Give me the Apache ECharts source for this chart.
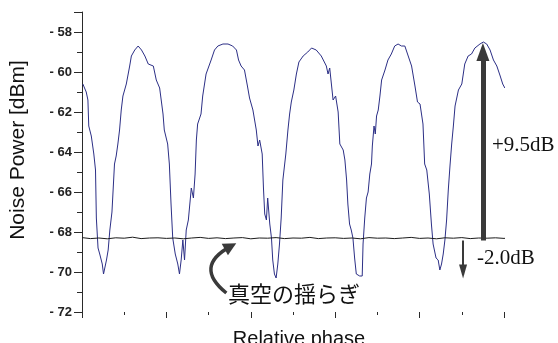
<!DOCTYPE html>
<html><head><meta charset="utf-8">
<script src="https://cdn.jsdelivr.net/npm/echarts@6/dist/echarts.min.js"></script>
<style>html,body{margin:0;padding:0;background:#fff}#c{width:558px;height:343px}</style>
</head><body><div id="c"></div>
<script>
// Homodyne noise power vs relative phase
const signalPhase = [0.02,0.10,0.14,0.16,0.22,0.28,0.32,0.34,0.38,0.42,0.46,0.48,0.51,0.54,0.58,0.62,0.66,0.71,0.75,0.77,0.81,0.85,0.89,0.93,0.97,1.05,1.13,1.17,1.25,1.33,1.41,1.49,1.57,1.69,1.76,1.84,1.92,
  1.95,2.03,2.07,2.11,2.15,2.21,2.27,2.31,2.35,2.39,2.43,2.47,2.52,2.59,2.64,2.68,2.71,2.74,2.82,2.86,2.94,3.06,3.14,3.22,3.34,3.46,3.57,3.66,3.71,3.77,3.85,3.92,3.97,
  4.05,4.13,4.17,4.21,4.27,4.30,4.33,4.37,4.40,4.45,4.49,4.52,4.56,4.60,4.64,4.68,4.72,4.76,4.83,4.88,4.92,4.96,5.02,5.08,5.14,5.24,5.35,5.44,5.55,5.67,5.79,5.83,5.87,5.91,5.95,
  6.01,6.07,6.11,6.15,6.19,6.23,6.27,6.30,6.34,6.38,6.42,6.46,6.50,6.58,6.64,6.66,6.70,6.74,6.78,6.82,6.86,6.88,6.92,6.95,6.98,7.02,7.06,7.10,7.18,7.25,7.33,7.41,7.49,7.57,7.65,7.73,7.81,7.89,7.95,
  8.01,8.08,8.12,8.17,8.23,8.28,8.32,8.39,8.44,8.48,8.52,8.56,8.60,8.64,8.68,8.72,8.76,8.80,8.84,8.92,9.00,9.07,9.15,9.23,9.31,9.43,9.51,9.59,9.67,9.75,9.83,9.91,9.97,10.02];
const signalPower = [-60.6,-61.0,-61.4,-62.7,-63.2,-64.1,-64.9,-67.3,-68.8,-69.1,-69.0,-69.6,-70.1,-70.2,-69.4,-68.9,-67.9,-67.0,-65.4,-64.6,-64.2,-63.6,-62.9,-61.9,-61.2,-60.6,-59.7,-59.2,-58.9,-58.7,-58.9,-59.2,-59.6,-59.7,-60.4,-60.8,-62.1,
  -62.9,-63.6,-64.6,-66.6,-68.3,-69.1,-69.6,-70.1,-69.4,-68.4,-69.4,-67.9,-67.4,-65.8,-66.3,-65.1,-63.4,-62.6,-62.1,-61.2,-60.1,-59.4,-58.9,-58.7,-58.6,-58.6,-58.7,-58.9,-59.4,-59.7,-59.9,-60.7,-61.3,
  -61.9,-62.9,-63.7,-63.4,-64.1,-65.8,-67.1,-67.4,-66.3,-67.6,-68.3,-69.4,-70.1,-70.3,-69.6,-68.6,-67.3,-65.4,-64.1,-62.9,-62.1,-61.5,-60.9,-60.1,-59.5,-59.2,-59.0,-58.8,-58.9,-59.2,-59.7,-60.1,-59.8,-60.6,-61.4,
  -61.2,-62.0,-63.6,-63.6,-63.9,-64.4,-65.4,-66.6,-67.6,-67.9,-68.3,-69.3,-70.1,-70.2,-70.2,-68.6,-67.3,-66.3,-66.0,-65.1,-64.6,-63.7,-62.7,-63.1,-62.2,-61.9,-61.2,-60.4,-59.9,-59.4,-59.1,-58.7,-58.6,-58.7,-58.7,-59.2,-59.7,-60.7,-61.5,
  -61.6,-62.6,-64.6,-64.9,-66.1,-67.6,-68.6,-69.3,-69.4,-69.9,-69.6,-69.1,-68.4,-67.4,-65.9,-64.7,-63.6,-62.7,-61.7,-60.9,-60.6,-59.6,-59.2,-59.1,-58.8,-58.6,-58.5,-58.6,-58.9,-59.4,-59.7,-60.2,-60.6,-60.8];

const vacuumPhase = [0,0.2,0.4,0.6,0.8,1.0,1.2,1.4,1.6,1.8,2.0,2.2,2.4,2.6,2.8,3.0,3.2,3.4,3.6,3.8,4.0,4.2,4.4,4.6,4.8,5.0,5.2,5.4,5.6,5.8,6.0,6.2,6.4,6.6,6.8,7.0,7.2,7.4,7.6,7.8,8.0,8.2,8.4,8.6,8.8,9.0,9.2,9.4,9.6,9.8,10.0,10.1];
const vacuumPower = [-68.28,-68.33,-68.30,-68.34,-68.29,-68.31,-68.26,-68.33,-68.30,-68.29,
  -68.32,-68.30,-68.34,-68.30,-68.27,-68.32,-68.29,-68.33,-68.30,-68.28,
  -68.34,-68.30,-68.31,-68.28,-68.33,-68.30,-68.31,-68.27,-68.33,-68.30,
  -68.29,-68.32,-68.30,-68.34,-68.28,-68.31,-68.30,-68.33,-68.30,-68.27,
  -68.32,-68.30,-68.34,-68.29,-68.31,-68.28,-68.33,-68.30,-68.31,-68.29,
  -68.32,-68.30];

// annotation anchors (data units)
const gainArrow = {phase: 9.50, from: -68.42, to: -59.0};
const lossArrow = {phase: 9.03, from: -68.42, to: -69.98};
const vacuumPointer = {from: [3.42, -71.05], to: [3.52, -68.72]};
const yRange = {min: -72, max: -57, step: 2};
const xRange = {min: 0, max: 10, step: 2};

const zip = (a, b) => a.map((v, i) => [v, b[i]]);
const chart = echarts.init(document.getElementById('c'), null, {renderer: 'canvas'});
const axisColor = '#2a2a2a';
const arrowColor = '#3a3a3a';
chart.setOption({
  animation: false,
  backgroundColor: '#fff',
  grid: {left: 82, right: 54, top: 12, bottom: 31, containLabel: false, outerBoundsMode: 'none'},
  xAxis: {
    type: 'value', min: xRange.min, max: xRange.max, interval: xRange.step,
    name: 'Relative phase', nameLocation: 'middle', nameGap: 17,
    nameTextStyle: {fontFamily: 'Liberation Sans', fontSize: 20, color: '#111', padding: [0, 0, 0, 12]},
    axisLine: {show: false},
    axisTick: {show: true, length: 6, lineStyle: {color: axisColor, width: 1}},
    minorTick: {show: true, splitNumber: 2, length: 3, lineStyle: {color: axisColor, width: 1}},
    axisLabel: {show: false},
    splitLine: {show: false}
  },
  yAxis: {
    type: 'value', min: yRange.min, max: yRange.max, interval: yRange.step,
    name: 'Noise Power [dBm]', nameLocation: 'middle', nameGap: 53,
    nameTextStyle: {fontFamily: 'Liberation Sans', fontSize: 21, color: '#111', padding: [0, 0, 0, 24]},
    axisLine: {show: true, lineStyle: {color: axisColor, width: 1}},
    axisTick: {show: true, length: 8, lineStyle: {color: axisColor, width: 1}},
    minorTick: {show: true, splitNumber: 2, length: 5, lineStyle: {color: axisColor, width: 1}},
    axisLabel: {
      margin: 10, fontFamily: 'Liberation Sans', fontSize: 13, fontWeight: 'bold', color: '#222',
      showMaxLabel: false,
      formatter: v => (v > -58 ? '' : '- ' + Math.abs(v))
    },
    splitLine: {show: false}
  },
  series: [
    {
      type: 'line', data: zip(signalPhase, signalPower), showSymbol: false, clip: false,
      lineStyle: {color: '#2c2f86', width: 1}, silent: true, z: 2
    },
    {
      type: 'line', data: zip(vacuumPhase, vacuumPower), showSymbol: false, clip: false,
      lineStyle: {color: '#1c1c1c', width: 1}, silent: true, z: 3,
      markLine: {
        silent: true, animation: false, label: {show: false}, emphasis: {disabled: true},
        lineStyle: {color: arrowColor, type: 'solid'},
        data: [
          [
            {coord: [gainArrow.phase, gainArrow.from], symbol: 'none', lineStyle: {color: arrowColor, width: 5, type: 'solid'}},
            {coord: [gainArrow.phase, gainArrow.to], symbol: 'triangle', symbolSize: [13, 18]}
          ],
          [
            {coord: [lossArrow.phase, lossArrow.from], symbol: 'none', lineStyle: {color: arrowColor, width: 2, type: 'solid'}},
            {coord: [lossArrow.phase, lossArrow.to], symbol: 'triangle', symbolSize: [8, 14]}
          ]
        ]
      }
    },
    {
      type: 'lines', coordinateSystem: 'cartesian2d', silent: true, z: 4, animation: false,
      symbol: ['none', 'triangle'], symbolSize: 13,
      lineStyle: {color: arrowColor, width: 3.5, type: 'solid', curveness: 0.75, opacity: 1},
      data: [{coords: [vacuumPointer.from, vacuumPointer.to]}]
    }
  ],
  graphic: [
    {type: 'text', x: 492, y: 145, silent: true,
      style: {text: '+9.5dB', font: '21px "Liberation Serif"', fill: '#111', verticalAlign: 'middle'}},
    {type: 'text', x: 477, y: 258, silent: true,
      style: {text: '-2.0dB', font: '21px "Liberation Serif"', fill: '#111', verticalAlign: 'middle'}},
    {type: 'text', x: 228, y: 294, silent: true,
      style: {text: '真空の揺らぎ', font: '22px "Noto Sans CJK JP"', fill: '#111', verticalAlign: 'middle'}}
  ]
});
</script></body></html>
